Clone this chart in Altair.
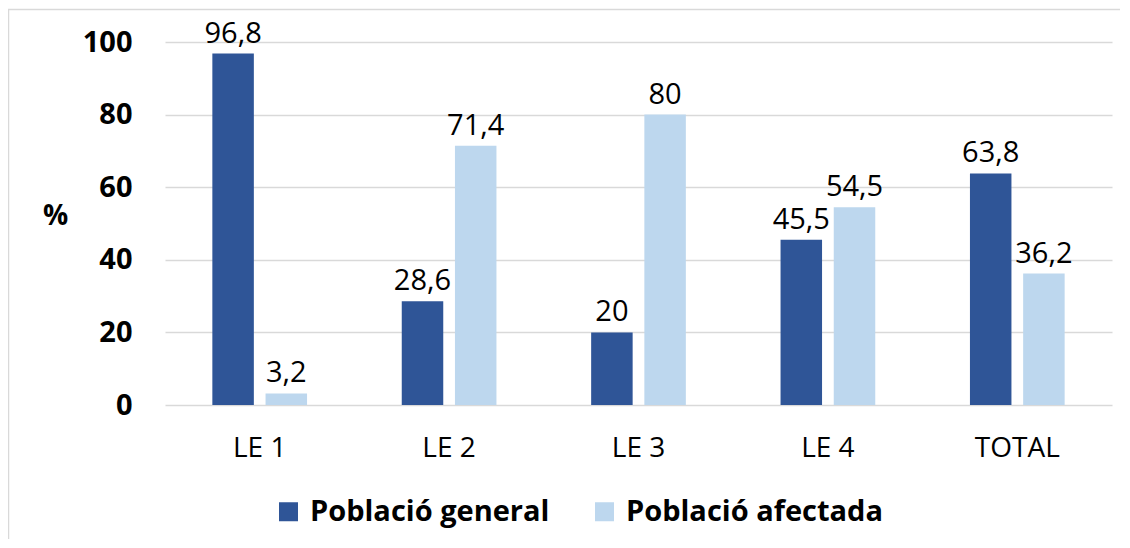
import altair as alt
import pandas as pd

categories = ["LE 1", "LE 2", "LE 3", "LE 4", "TOTAL"]
series = ["Població general", "Població afectada"]
general = [96.8, 28.6, 20, 45.5, 63.8]
afectada = [3.2, 71.4, 80, 54.5, 36.2]
colors = ["#2F5597", "#BDD7EE"]
y_ticks = [0, 20, 40, 60, 80, 100]


def fmt(v):
    s = ("%g" % v)
    return s.replace(".", ",")


rows = []
for c, g, a in zip(categories, general, afectada):
    rows.append({"cat": c, "serie": series[0], "val": g, "lbl": fmt(g)})
    rows.append({"cat": c, "serie": series[1], "val": a, "lbl": fmt(a)})
df = pd.DataFrame(rows)

FONT = "Open Sans"

x = alt.X("cat:N", sort=categories, title=None,
          scale=alt.Scale(paddingInner=0.5, paddingOuter=0.25),
          axis=alt.Axis(labelAngle=0, labelFontSize=28, labelFont=FONT, labelColor="#000000",
                        labelPadding=29, ticks=False, domain=False))
xo = alt.XOffset("serie:N", sort=series, scale=alt.Scale(paddingInner=0.22, paddingOuter=0))
y = alt.Y("val:Q", scale=alt.Scale(domain=[0, 100], nice=False),
          axis=alt.Axis(values=y_ticks, title="%", titleAngle=0, titleFontSize=28, titleFont=FONT,
                        titleFontWeight="bold", titleColor="#000000", titleX=-110, titleY=188,
                        labelFontSize=29, labelFont=FONT, labelFontWeight="bold", labelColor="#000000",
                        labelPadding=33, ticks=False, domain=False,
                        gridColor="#D9D9D9", gridWidth=1.5))
color = alt.Color("serie:N", sort=series, scale=alt.Scale(domain=series, range=colors),
                  legend=alt.Legend(title=None, orient="none", legendX=109, legendY=455,
                                    direction="horizontal", symbolType="square", symbolSize=361,
                                    symbolStrokeWidth=0, labelFontSize=29, labelFont=FONT,
                                    labelFontWeight="bold", labelColor="#000000", columnPadding=40,
                                    labelOffset=7, labelLimit=0))

base = alt.Chart(df)
bars = base.mark_bar().encode(x=x, xOffset=xo, y=y, color=color)
labels = base.mark_text(baseline="bottom", dy=-5, fontSize=29, font=FONT, color="#000000").encode(
    x=alt.X("cat:N", sort=categories), xOffset=xo, y="val:Q", text="lbl:N")

frame = alt.Chart(pd.DataFrame({"a": [0]})).mark_rect(fill=None, stroke="#D9D9D9", strokeWidth=1.5).encode(
    x=alt.value(-156.5), x2=alt.value(1000), y=alt.value(-32.5), y2=alt.value(600))

chart = alt.layer(frame, bars, labels).properties(
    width=947, height=363,
    autosize=alt.AutoSizeParams(type="none"),
    padding={"left": 157, "top": 34, "right": 8, "bottom": 134},
).configure(background="#FFFFFF").configure_view(stroke=None)

chart.save("out.html", embed_options={"renderer": "svg", "actions": False})
